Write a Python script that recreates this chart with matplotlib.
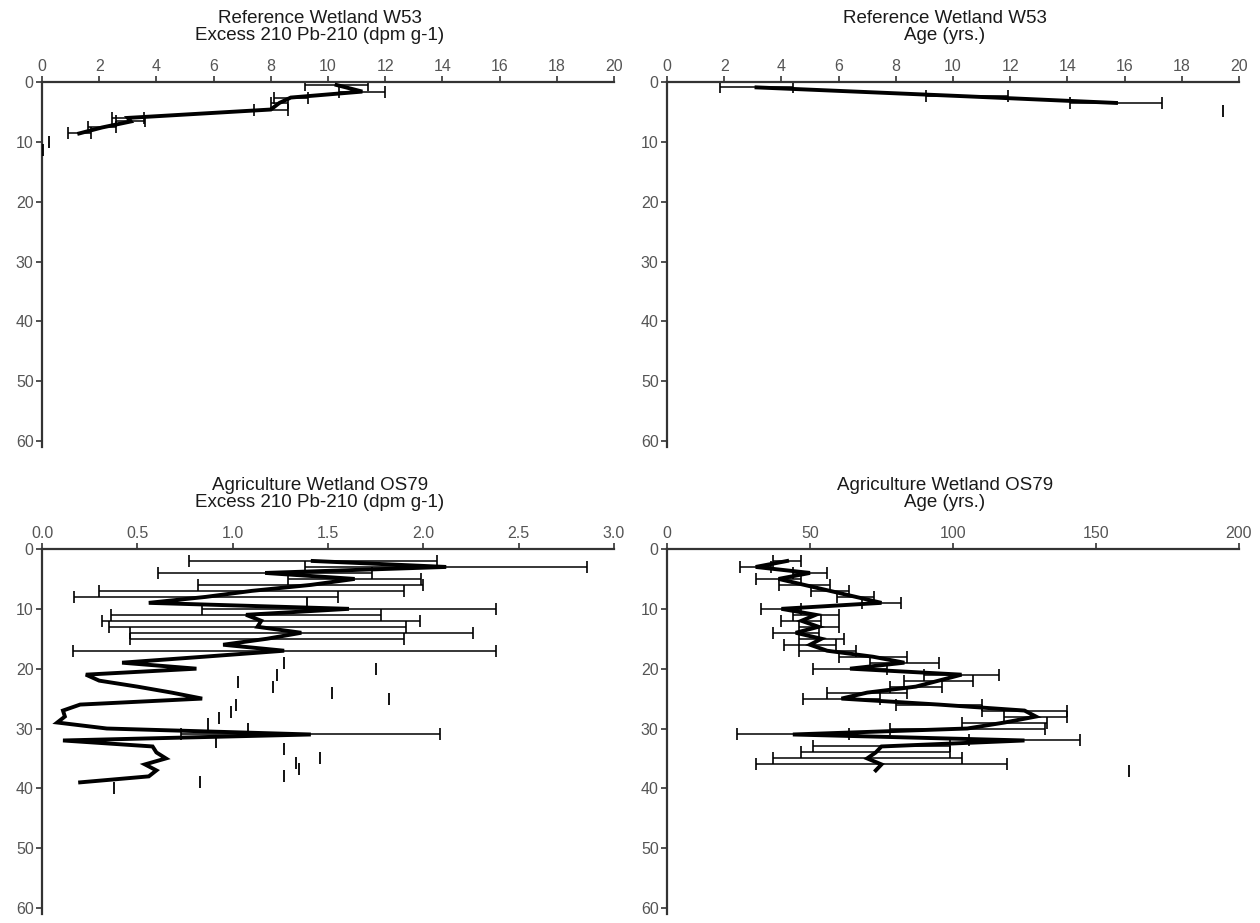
import numpy as np
import matplotlib
matplotlib.use('Agg')
import matplotlib.pyplot as plt

plt.rcParams['font.family'] = ['Liberation Sans', 'DejaVu Sans']

# W53 excess Pb-210
w53_pb_depth = [0.5, 1.6, 2.6, 3.5, 4.6, 6.0, 6.6, 7.6, 8.6]
w53_pb_val = [10.3, 11.2, 8.7, 8.3, 8.0, 3.0, 3.1, 2.1, 1.3]
w53_pb_err = [1.1, 0.8, 0.6, 0.3, 0.6, 0.55, 0.5, 0.5, 0.4]
w53_pb_tick_x = [0.25, 0.05]
w53_pb_tick_d = [10.0, 11.3]

# W53 age
w53_age_depth = [0.9, 2.4, 3.5]
w53_age_val = [3.13, 10.5, 15.7]
w53_age_err = [1.27, 1.44, 1.62]
w53_age_tick_x = [19.45]
w53_age_tick_d = [4.8]

# OS79 excess Pb-210
os79_pb_depth = [2, 3, 4, 5, 6, 7, 8, 9, 10, 11, 12, 13, 14, 15, 16, 17, 18, 19, 20,
                 21, 22, 23, 24, 25, 26, 27, 28, 29, 30, 31, 32, 33, 34, 35, 36, 37, 38, 39]
os79_pb_val = [1.42, 2.12, 1.17, 1.64, 1.41, 1.10, 0.86, 0.56, 1.61, 1.07, 1.15, 1.13, 1.36,
               1.18, 0.95, 1.27, 0.85, 0.42, 0.81, 0.23, 0.30, 0.50, 0.68, 0.84, 0.20, 0.11,
               0.12, 0.08, 0.34, 1.41, 0.11, 0.58, 0.60, 0.65, 0.54, 0.60, 0.56, 0.20]
os79_pb_err = [0.65, 0.74, 0.56, 0.35, 0.59, 0.80, 0.69, np.nan, 0.77, 0.71, 0.835, 0.78, 0.90,
               0.72, np.nan, 1.11, np.nan, np.nan, np.nan, np.nan, np.nan, np.nan, np.nan, np.nan,
               np.nan, np.nan, np.nan, np.nan, np.nan, 0.68, np.nan, np.nan, np.nan, np.nan,
               np.nan, np.nan, np.nan, np.nan]
os79_pb_tick_x = [1.39, 1.27, 1.75, 1.23, 1.03, 1.21, 1.52, 1.82, 1.02, 0.99, 0.93, 0.87,
                  1.08, 0.91, 1.27, 1.46, 1.33, 1.35, 1.27, 0.83, 0.38]
os79_pb_tick_d = [9.0, 19.0, 20.0, 21.0, 22.3, 23.0, 24.0, 25.0, 26.0, 27.3, 28.3, 29.2,
                  30.0, 32.3, 33.5, 35.0, 35.8, 36.7, 38.0, 39.0, 40.0]

# OS79 age
os79_age_depth = [2, 3, 4, 5, 6, 7, 8, 9, 10, 11, 12, 13, 14, 15, 16, 17, 18, 19, 20,
                  21, 22, 23, 24, 25, 26, 27, 28, 29, 30, 31, 32, 33, 34, 35, 36, 37]
os79_age_val = [42, 31, 50, 39, 48, 57, 66, 75, 40, 52, 47, 53, 45, 54, 50, 56, 72, 83, 64,
                103, 95, 87, 70, 61, 95, 125, 129, 118, 105, 44, 125, 75, 73, 70, 75, 73]
os79_age_err = [5, 5.5, 6, 8, 9, 6.5, 6.5, 6.7, 7, 8, 7, 7, 8, 8, 9, 10, 12, 12, 13, 13, 12,
                9, 14, 13.4, 15, 15, 11, 15, 27, 19.5, 19.5, 24, 26, 33, 44, np.nan]
os79_age_tick_x = [161.5]
os79_age_tick_d = [37.1]

panels = [
    ('Reference Wetland W53\nExcess 210 Pb-210 (dpm g-1)', w53_pb_depth, w53_pb_val, w53_pb_err,
     w53_pb_tick_x, w53_pb_tick_d, (0, 20), np.arange(0, 21, 2), '%d'),
    ('Reference Wetland W53\nAge (yrs.)', w53_age_depth, w53_age_val, w53_age_err,
     w53_age_tick_x, w53_age_tick_d, (0, 20), np.arange(0, 21, 2), '%d'),
    ('Agriculture Wetland OS79\nExcess 210 Pb-210 (dpm g-1)', os79_pb_depth, os79_pb_val, os79_pb_err,
     os79_pb_tick_x, os79_pb_tick_d, (0, 3), np.arange(0, 3.01, 0.5), '%.1f'),
    ('Agriculture Wetland OS79\nAge (yrs.)', os79_age_depth, os79_age_val, os79_age_err,
     os79_age_tick_x, os79_age_tick_d, (0, 200), np.arange(0, 201, 50), '%d'),
]

W, H = 1260, 923
lefts = [42, 667, 42, 667]
tops = [82, 82, 549, 549]
pw, ph = 572, 365

fig = plt.figure(figsize=(12.6, 9.23), dpi=100, facecolor='white')
grey = '#555555'

for i, (title, d, v, e, tx, td, xl, xt, fmt) in enumerate(panels):
    l, t = lefts[i], tops[i]
    ax = fig.add_axes([l / W, 1 - (t + ph) / H, pw / W, ph / H])
    ax.errorbar(v, d, xerr=e, fmt='none', ecolor='black', elinewidth=1.1,
                capsize=4, capthick=1.2, zorder=2)
    ax.plot(v, d, color='black', linewidth=2.8, zorder=3, solid_joinstyle='miter')
    ax.plot(tx, td, linestyle='none', marker='|', color='black', markersize=8,
            markeredgewidth=1.3, zorder=3)
    ax.set_xlim(*xl)
    ax.set_ylim(61, 0)
    ax.set_xticks(xt)
    ax.set_xticklabels([fmt % x for x in xt])
    ax.set_yticks([0, 10, 20, 30, 40, 50, 60])
    ax.xaxis.tick_top()
    for s in ['right', 'bottom']:
        ax.spines[s].set_visible(False)
    for s in ['top', 'left']:
        ax.spines[s].set_color('#333333')
        ax.spines[s].set_linewidth(1.6)
    ax.tick_params(colors=grey, labelsize=11.5, length=4, width=1.2, pad=2)
    ax.tick_params(axis='both', color='#333333')
    fig.text((l + pw / 2 - 8) / W, 1 - 44 / H if i < 2 else 1 - 511 / H, title,
             ha='center', va='bottom', fontsize=13.5, color='#1a1a1a', linespacing=1.0)

fig.savefig('out.png', dpi=100, facecolor='white')
